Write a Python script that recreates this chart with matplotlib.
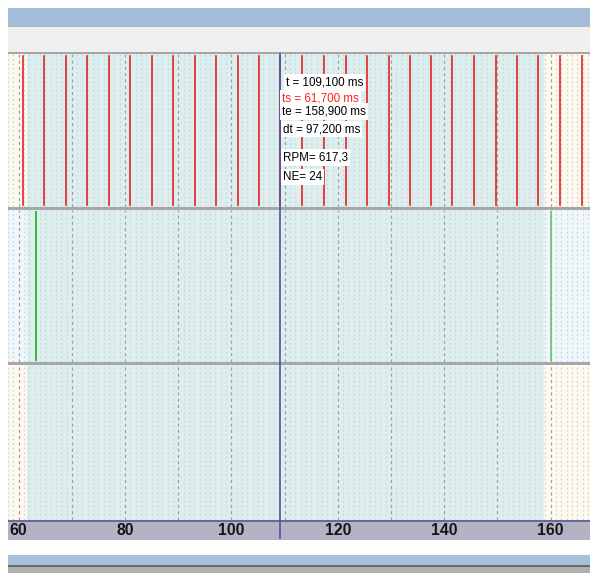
import matplotlib
matplotlib.use("Agg")
import matplotlib.pyplot as plt
from matplotlib.patches import Rectangle
import numpy as np

# ---------------- data (ms) ----------------
red_edges = [60.9, 64.8, 68.85, 72.85, 77.0, 81.0, 85.0, 89.0, 93.15, 97.1,
             101.2, 105.25, 109.2, 113.3, 117.4, 121.5, 125.55, 129.6, 133.5,
             137.5, 141.5, 145.65, 149.7, 153.65, 157.6, 161.8, 165.85]
green_edges = [63.3, 160.0]
green_colors = ["#2fb02f", "#72c872"]
sel_start, sel_end = 61.5, 158.5
cursor_t = 109.1
tick_values = [60, 80, 100, 120, 140, 160]
tick_labels = ["60", "80", "100", "120", "140", "160"]
info_lines = ["t = 109,100 ms", "ts = 61,700 ms", "te = 158,900 ms",
              "dt = 97,200 ms", "RPM= 617,3", "NE= 24"]
info_colors = ["black", "#ff2020", "black", "black", "black", "black"]

xmin, xmax = 58.0, 167.4

W, H = 590, 573
fig = plt.figure(figsize=(W / 100, H / 100), dpi=100)
fig.patch.set_facecolor("white")
plt.rcParams['font.family'] = ['Liberation Sans', 'DejaVu Sans']


def rect(x0, y0, x1, y1, color, z=-5):
    fig.patches.append(Rectangle((x0 / W, 1 - y1 / H), (x1 - x0) / W, (y1 - y0) / H,
                                 transform=fig.transFigure, facecolor=color,
                                 edgecolor="none", zorder=z))


def ax_px(x0, y0, x1, y1, z=0):
    ax = fig.add_axes([x0 / W, 1 - y1 / H, (x1 - x0) / W, (y1 - y0) / H])
    ax.set_xlim(xmin, xmax)
    ax.set_ylim(0, 1)
    ax.set_axis_off()
    ax.set_zorder(z)
    return ax


# frame decorations
rect(8, 8, 590, 26, "#a4bddb")
rect(8, 26, 590, 27.5, "#b8b8b8")
rect(8, 27.5, 590, 52, "#efefef")
rect(8, 52, 590, 54, "#a6a6a6")
rect(8, 207, 590, 210, "#a6a6ac")
rect(8, 362, 590, 365, "#a6a6ac")
rect(8, 520, 590, 521.5, "#6a6a9a")
rect(8, 521.5, 590, 540, "#b4b2c4")
rect(8, 555, 590, 565, "#a7c0de")
rect(8, 565, 590, 566.5, "#6a6a6a")
rect(8, 566.5, 590, 573, "#b0b0b0")

panels = [(54, 207, "#fdf9ee"), (210, 362, "#eef7fb"), (365, 520, "#fdf9ee")]
axes = []
for (y0, y1, outside) in panels:
    ax = ax_px(8, y0, 590, y1)
    ax.axvspan(xmin, xmax, color=outside, zorder=0)
    ax.axvspan(sel_start, sel_end, color="#dcefee", zorder=0.5)
    for v in np.arange(58, 168, 1):
        if v % 10 == 0:
            ax.axvline(v, color="#a0a0a0", lw=0.9, ls=(0, (2.5, 2.5)), zorder=1)
        else:
            ax.axvline(v, color="#cdd2d2", lw=0.8, ls=(0, (1.6, 2.4)), zorder=1)
    axes.append(ax)

# red pulses (top panel)
for t in red_edges:
    axes[0].axvline(t, ymin=0.01, ymax=0.99, color="#e52222", lw=1.2, zorder=2)

# green pulses (middle panel)
for t, c in zip(green_edges, green_colors):
    axes[1].axvline(t, ymin=0.01, ymax=0.99, color=c, lw=1.3, zorder=2)

# axis band with tick labels
axb = ax_px(8, 521.5, 590, 540, z=1)
for v, lab in zip(tick_values, tick_labels):
    axb.text(v, 0.5, lab, ha="center", va="center", fontsize=11.3,
             fontweight="bold", color="#141414")

# cursor line spanning panels and axis band
axc = ax_px(8, 53, 590, 539, z=2)
axc.axvline(cursor_t, color="#5252a2", lw=1.2, zorder=5)

# info texts
info_y = [82.5, 98.5, 111.5, 129, 157.5, 177]
info_x = [286, 282.5, 282.5, 283, 283, 283]
for s, c, x, y in zip(info_lines, info_colors, info_x, info_y):
    fig.text(x / W, 1 - y / H, s, color=c, fontsize=8.4, ha="left", va="center",
             bbox=dict(boxstyle="square,pad=0.18", facecolor="white",
                       edgecolor="none"), zorder=10)

fig.savefig("out.png", dpi=100)
